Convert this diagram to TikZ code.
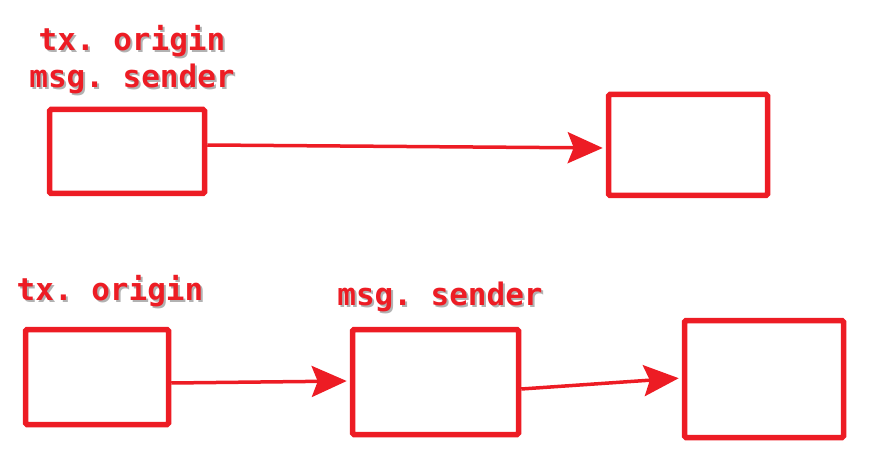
\documentclass[tikz,border=0pt]{standalone}
\usepackage{fontspec}
\setmonofont{DejaVu Sans Mono}
\usetikzlibrary{arrows.meta}

\definecolor{boxred}{RGB}{237,28,36}

\newcommand{\shtext}[1]{\makebox[0pt][l]{\hspace{2pt}\raisebox{-2pt}{\color{black!30}#1}}#1}

\tikzset{
  box/.style={draw=boxred, line width=5.5pt, rounded corners=1.5pt, inner sep=0pt},
  lbl/.style={text=boxred, font=\ttfamily\bfseries\fontsize{31}{37}\selectfont, inner sep=0pt, align=center},
  flow/.style={draw=boxred, line width=3.5pt, shorten >=3pt,
    -{Stealth[length=35pt,width=31pt,inset=6pt]}}
}

\begin{document}
\begin{tikzpicture}[x=1pt,y=-1pt]

\useasboundingbox (0,0) rectangle (876,468);

% one call: both names
\node[box, minimum width=155pt, minimum height=84pt] (callA) at (127,151.5) {};
\node[box, minimum width=159pt, minimum height=101pt] (calleeA) at (688,145) {};
\node[lbl] (bothA) at (132,61) {\shtext{tx. origin}\\\shtext{msg. sender}};

\draw[flow] ([yshift=6.5pt]callA.east) -- ([yshift=-3pt]calleeA.west);

% chained calls
\node[box, minimum width=143pt, minimum height=95pt] (userB) at (97,377) {};
\node[box, minimum width=166pt, minimum height=105pt] (midB) at (435.5,382) {};
\node[box, minimum width=159pt, minimum height=117pt] (lastB) at (764,379) {};

\node[lbl] (originB) at (110,292) {\shtext{tx. origin}};
\node[lbl] (senderB) at (440,298) {\shtext{msg. sender}};

\draw[flow] ([yshift=-6pt]userB.east) -- ([yshift=1pt]midB.west);
\draw[flow] ([yshift=-7pt]midB.east) -- ([yshift=1pt]lastB.west);

\end{tikzpicture}
\end{document}
